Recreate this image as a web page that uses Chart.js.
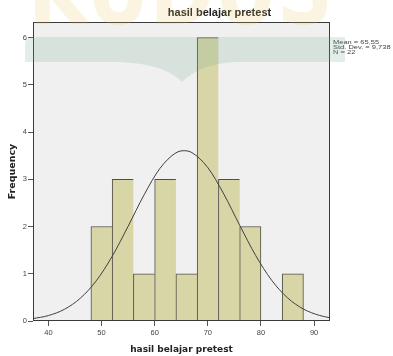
<!DOCTYPE html>
<html lang="id">
<head>
    <meta charset="UTF-8">
    <title>hasil belajar pretest</title>
    <style>
        body { margin: 0; background: #ffffff; }
        #wrap { position: relative; width: 393px; height: 356px; overflow: hidden; }
        #mark { position: absolute; left: 0; top: 0; pointer-events: none; }
    </style>
</head>
<body>
<div id="wrap">
    <canvas id="histo" width="393" height="356"></canvas>
    <!-- watermark that sits over the original picture -->
    <svg id="mark" width="393" height="356">
        <text x="28" y="24" font-family="DejaVu Sans" font-weight="bold" font-size="92"
              textLength="305" lengthAdjust="spacingAndGlyphs"
              fill="rgb(230,195,90)" fill-opacity="0.18">KUDUS</text>
        <path d="M25,44 Q25,37 33,37 L345,37 L345,62 L235,62 Q200,64 182,82 Q165,64 120,62 L25,62 Z"
              fill="rgb(120,170,145)" fill-opacity="0.2"/>
    </svg>
</div>

<script src="https://cdn.jsdelivr.net/npm/chart.js"></script>
<script>
    // histogram bins (width 4)
    const binCenters = [50, 54, 58, 62, 66, 70, 74, 78, 82, 86];
    const frequencies = [2, 3, 1, 3, 1, 6, 3, 2, 0, 1];

    // normal curve
    const curveX = [37, 40, 43, 46, 49, 52, 55, 58, 61, 64, 65.55, 67, 70, 73, 76, 79, 82, 85, 88, 91, 93];
    const curveY = [0.049, 0.115, 0.247, 0.481, 0.850, 1.369, 2.005, 2.669, 3.232, 3.560, 3.605,
                    3.565, 3.248, 2.690, 2.027, 1.389, 0.866, 0.491, 0.253, 0.119, 0.068];

    const xTicks = [40, 50, 60, 70, 80, 90];
    const yTicks = [0, 1, 2, 3, 4, 5, 6];

    const chartTitle = 'hasil belajar pretest';
    const xTitle = 'hasil belajar pretest';
    const yTitle = 'Frequency';
    const statLines = ['Mean = 65,55', 'Std. Dev. = 9,738', 'N = 22'];

    const barData = binCenters.map((x, i) => ({ x: x, y: frequencies[i] }));
    const curveData = curveX.map((x, i) => ({ x: x, y: curveY[i] }));

    // plot background, frame, title and the stats box
    const spssLook = {
        id: 'spssLook',
        beforeDatasetsDraw(chart) {
            const a = chart.chartArea, ctx = chart.ctx;
            ctx.save();
            ctx.fillStyle = '#f0f0f0';
            ctx.fillRect(a.left, a.top, a.right - a.left, a.bottom - a.top);
            ctx.restore();
        },
        afterDraw(chart) {
            const a = chart.chartArea, ctx = chart.ctx;
            ctx.save();
            ctx.strokeStyle = '#3a3a3a';
            ctx.lineWidth = 1;
            ctx.strokeRect(Math.round(a.left) + 0.5, Math.round(a.top) + 0.5,
                Math.round(a.right - a.left) - 1, Math.round(a.bottom - a.top) - 1);

            ctx.fillStyle = '#222';
            ctx.font = 'bold 11px "Liberation Sans", Arial, sans-serif';
            ctx.textAlign = 'center';
            ctx.textBaseline = 'middle';
            ctx.fillText(chartTitle, 219.5, 13);

            // stats box: wide but short glyphs, like the original
            ctx.fillStyle = '#444';
            ctx.font = '7.5px "Liberation Sans", Arial, sans-serif';
            ctx.textAlign = 'left';
            ctx.textBaseline = 'alphabetic';
            statLines.forEach((s, i) => {
                ctx.save();
                ctx.translate(333, 43.5 + i * 5);
                ctx.scale(1, 0.72);
                ctx.fillText(s, 0, 0);
                ctx.restore();
            });
            ctx.restore();
        }
    };

    new Chart(document.getElementById('histo'), {
        type: 'bar',
        data: {
            datasets: [
                {
                    type: 'line',
                    data: curveData,
                    borderColor: '#404040',
                    borderWidth: 1,
                    pointRadius: 0,
                    cubicInterpolationMode: 'monotone',
                    fill: false,
                    order: 0
                },
                {
                    type: 'bar',
                    data: barData,
                    backgroundColor: '#d8d5a6',
                    borderColor: '#4f4f46',
                    borderWidth: (c) => {
                        const next = frequencies[c.dataIndex + 1];
                        return { top: 1, left: 1, bottom: 0, right: next ? 0 : 1 };
                    },
                    borderSkipped: false,
                    categoryPercentage: 1,
                    barPercentage: 1,
                    order: 1
                }
            ]
        },
        options: {
            responsive: false,
            animation: false,
            layout: { padding: { left: 0, right: 63, top: 22, bottom: 0 } },
            plugins: { legend: { display: false }, tooltip: { enabled: false } },
            scales: {
                x: {
                    type: 'linear',
                    min: 37.1,
                    max: 93,
                    offset: false,
                    afterBuildTicks: (s) => { s.ticks = xTicks.map(v => ({ value: v })); },
                    afterFit: (s) => { s.height = 35; },
                    grid: { offset: false, drawOnChartArea: false, drawTicks: true, tickLength: 5, color: '#555' },
                    border: { display: false },
                    ticks: {
                        padding: 2,
                        color: '#444',
                        font: { family: '"Liberation Sans", Arial, sans-serif', size: 7.5 }
                    },
                    title: {
                        display: true,
                        text: xTitle,
                        color: '#222',
                        padding: { top: 0, bottom: 1 },
                        font: { family: '"DejaVu Sans", sans-serif', size: 9, weight: 'bold' }
                    }
                },
                y: {
                    min: 0,
                    max: 6.33,
                    afterBuildTicks: (s) => { s.ticks = yTicks.map(v => ({ value: v })); },
                    afterFit: (s) => { s.width = 33; },
                    grid: { drawOnChartArea: false, drawTicks: true, tickLength: 5, color: '#555' },
                    border: { display: false },
                    ticks: {
                        padding: 1,
                        color: '#444',
                        font: { family: '"Liberation Sans", Arial, sans-serif', size: 7.5 }
                    },
                    title: {
                        display: true,
                        text: yTitle,
                        color: '#222',
                        padding: { top: 7, bottom: 0 },
                        font: { family: '"DejaVu Sans", sans-serif', size: 9.5, weight: 'bold' }
                    }
                }
            }
        },
        plugins: [spssLook]
    });
</script>
</body>
</html>
